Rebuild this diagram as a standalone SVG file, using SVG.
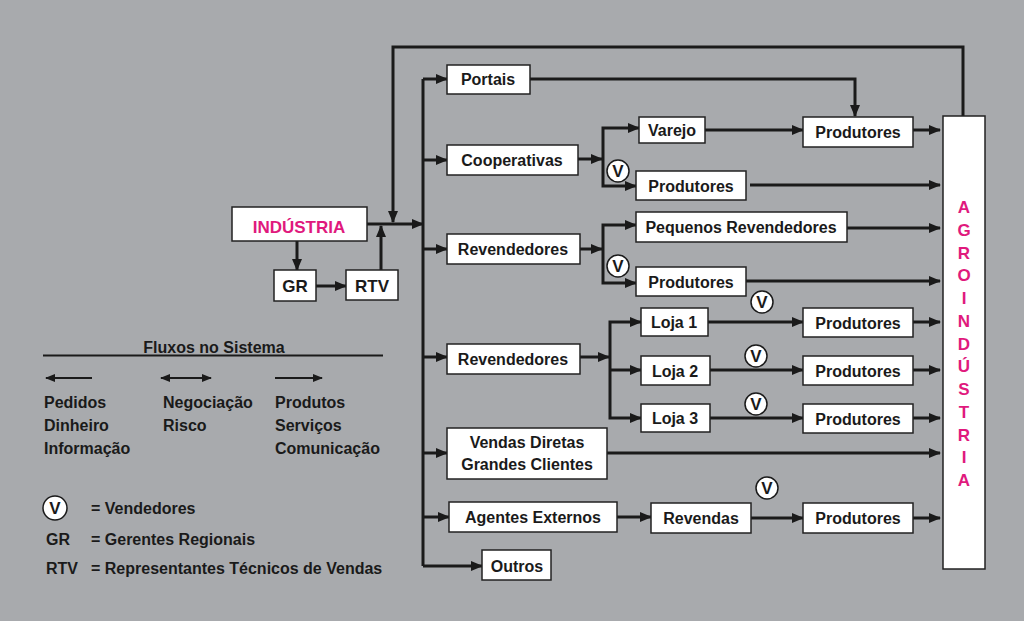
<svg xmlns="http://www.w3.org/2000/svg" width="1024" height="621" viewBox="0 0 1024 621">
<defs>
<style>
.bx{fill:#fff;stroke:#222;stroke-width:1.5}
.t{font-family:"Liberation Sans",Arial,sans-serif;font-weight:bold;font-size:16px;fill:#1a1a1a}
.c{text-anchor:middle}
.m{fill:#e0197d}
.a{font-size:17px}
.ln{fill:none;stroke:#1a1a1a;stroke-width:3}
.ls{fill:none;stroke:#1a1a1a;stroke-width:2}
.vc{fill:#fff;stroke:#1a1a1a;stroke-width:1.5}
</style>
<marker id="ah" viewBox="0 0 12 10" refX="11" refY="5" markerWidth="12" markerHeight="10" markerUnits="userSpaceOnUse" orient="auto">
<path d="M0 0 L12 5 L0 10 Z" fill="#1a1a1a"/>
</marker>
<marker id="as" viewBox="0 0 10 8" refX="9" refY="4" markerWidth="10" markerHeight="8" markerUnits="userSpaceOnUse" orient="auto">
<path d="M0 0 L10 4 L0 8 Z" fill="#1a1a1a"/>
</marker>
<marker id="as0" viewBox="0 0 10 8" refX="1" refY="4" markerWidth="10" markerHeight="8" markerUnits="userSpaceOnUse" orient="auto">
<path d="M10 0 L0 4 L10 8 Z" fill="#1a1a1a"/>
</marker>
</defs>
<rect width="1024" height="621" fill="#a8aaad"/>

<g id="connectors">
<path class="ln" d="M297 241 V270" marker-end="url(#ah)"/>
<path class="ln" d="M316 286 H346" marker-end="url(#ah)"/>
<path class="ln" d="M381 270 V226" marker-end="url(#ah)"/>
<path class="ln" d="M367 224 H423" marker-end="url(#ah)"/>
<path class="ln" d="M963 116 V47 H393 V222" marker-end="url(#ah)"/>
<path class="ln" d="M423 79 V566"/>
<path class="ln" d="M423 79 H447" marker-end="url(#ah)"/>
<path class="ln" d="M423 160 H447" marker-end="url(#ah)"/>
<path class="ln" d="M423 249 H447" marker-end="url(#ah)"/>
<path class="ln" d="M423 357 H447" marker-end="url(#ah)"/>
<path class="ln" d="M423 453 H447" marker-end="url(#ah)"/>
<path class="ln" d="M423 517 H449" marker-end="url(#ah)"/>
<path class="ln" d="M423 566 H482" marker-end="url(#ah)"/>
<path class="ln" d="M530 79 H855 V116" marker-end="url(#ah)"/>
<path class="ln" d="M578 159 H602" marker-end="url(#ah)"/>
<path class="ln" d="M603 159 V128 H639" marker-end="url(#ah)"/>
<path class="ln" d="M603 159 V186 H636" marker-end="url(#ah)"/>
<path class="ln" d="M705 130 H803" marker-end="url(#ah)"/>
<path class="ln" d="M913 130 H940" marker-end="url(#ah)"/>
<path class="ln" d="M750 185 H940" marker-end="url(#ah)"/>
<path class="ln" d="M580 249 H602" marker-end="url(#ah)"/>
<path class="ln" d="M603 249 V225 H636" marker-end="url(#ah)"/>
<path class="ln" d="M603 249 V283 H636" marker-end="url(#ah)"/>
<path class="ln" d="M847 228 H940" marker-end="url(#ah)"/>
<path class="ln" d="M746 281 H940" marker-end="url(#ah)"/>
<path class="ln" d="M580 357 H609" marker-end="url(#ah)"/>
<path class="ln" d="M610 357 V322 H641" marker-end="url(#ah)"/>
<path class="ln" d="M610 357 V418 H641" marker-end="url(#ah)"/>
<path class="ln" d="M610 370 H641" marker-end="url(#ah)"/>
<path class="ln" d="M708 322 H803" marker-end="url(#ah)"/>
<path class="ln" d="M710 370 H803" marker-end="url(#ah)"/>
<path class="ln" d="M710 418 H803" marker-end="url(#ah)"/>
<path class="ln" d="M913 322 H940" marker-end="url(#ah)"/>
<path class="ln" d="M913 370 H940" marker-end="url(#ah)"/>
<path class="ln" d="M913 418 H940" marker-end="url(#ah)"/>
<path class="ln" d="M607 453 H940" marker-end="url(#ah)"/>
<path class="ln" d="M617 517 H651" marker-end="url(#ah)"/>
<path class="ln" d="M751 518 H803" marker-end="url(#ah)"/>
<path class="ln" d="M913 518 H940" marker-end="url(#ah)"/>
</g>

<g id="industria"><rect class="bx" x="232" y="207" width="135" height="34"/><text class="t c m a" x="299" y="233">INDÚSTRIA</text></g>
<g id="gr"><rect class="bx" x="274" y="270" width="42" height="31"/><text class="t c a" x="295" y="292">GR</text></g>
<g id="rtv"><rect class="bx" x="346" y="270" width="52" height="30"/><text class="t c a" x="372" y="292">RTV</text></g>

<g id="portais"><rect class="bx" x="447" y="65" width="83" height="29"/><text class="t c" x="488" y="85">Portais</text></g>
<g id="cooperativas"><rect class="bx" x="447" y="145" width="131" height="30"/><text class="t c" x="512" y="166">Cooperativas</text></g>
<g id="varejo"><rect class="bx" x="639" y="117" width="66" height="26"/><text class="t c" x="672" y="136">Varejo</text></g>
<g id="produtores1"><rect class="bx" x="803" y="117" width="110" height="30"/><text class="t c" x="858" y="138">Produtores</text></g>
<g id="produtores2"><rect class="bx" x="636" y="171" width="110" height="29"/><text class="t c" x="691" y="192">Produtores</text></g>
<g id="revendedores1"><rect class="bx" x="447" y="234" width="133" height="30"/><text class="t c" x="513" y="255">Revendedores</text></g>
<g id="pequenos"><rect class="bx" x="636" y="212" width="211" height="30"/><text class="t c" x="741" y="233">Pequenos Revendedores</text></g>
<g id="produtores3"><rect class="bx" x="636" y="267" width="110" height="29"/><text class="t c" x="691" y="288">Produtores</text></g>
<g id="revendedores2"><rect class="bx" x="447" y="344" width="133" height="30"/><text class="t c" x="513" y="365">Revendedores</text></g>
<g id="loja1"><rect class="bx" x="641" y="308" width="67" height="28"/><text class="t c" x="674" y="328">Loja 1</text></g>
<g id="loja2"><rect class="bx" x="641" y="356" width="69" height="29"/><text class="t c" x="675" y="377">Loja 2</text></g>
<g id="loja3"><rect class="bx" x="641" y="404" width="69" height="28"/><text class="t c" x="675" y="424">Loja 3</text></g>
<g id="produtores4"><rect class="bx" x="803" y="308" width="110" height="29"/><text class="t c" x="858" y="329">Produtores</text></g>
<g id="produtores5"><rect class="bx" x="803" y="356" width="110" height="29"/><text class="t c" x="858" y="377">Produtores</text></g>
<g id="produtores6"><rect class="bx" x="803" y="404" width="110" height="29"/><text class="t c" x="858" y="425">Produtores</text></g>
<g id="vendas"><rect class="bx" x="447" y="428" width="160" height="51"/><text class="t c" x="527" y="448">Vendas Diretas</text><text class="t c" x="527" y="470">Grandes Clientes</text></g>
<g id="agentes"><rect class="bx" x="449" y="502" width="168" height="30"/><text class="t c" x="533" y="523">Agentes Externos</text></g>
<g id="revendas"><rect class="bx" x="651" y="503" width="100" height="30"/><text class="t c" x="701" y="524">Revendas</text></g>
<g id="produtores7"><rect class="bx" x="803" y="503" width="110" height="30"/><text class="t c" x="858" y="524">Produtores</text></g>
<g id="outros"><rect class="bx" x="482" y="550" width="69" height="30"/><text class="t c" x="517" y="572">Outros</text></g>

<g id="agroindustria"><rect class="bx" x="943" y="116" width="42" height="453"/>
<text class="t c m a" x="964" y="213">A</text>
<text class="t c m a" x="964" y="236">G</text>
<text class="t c m a" x="964" y="259">R</text>
<text class="t c m a" x="964" y="281">O</text>
<text class="t c m a" x="964" y="304">I</text>
<text class="t c m a" x="964" y="327">N</text>
<text class="t c m a" x="964" y="350">D</text>
<text class="t c m a" x="964" y="372">Ú</text>
<text class="t c m a" x="964" y="395">S</text>
<text class="t c m a" x="964" y="418">T</text>
<text class="t c m a" x="964" y="441">R</text>
<text class="t c m a" x="964" y="463">I</text>
<text class="t c m a" x="964" y="486">A</text>
</g>

<g id="v-markers">
<g><circle class="vc" cx="618" cy="171" r="11"/><text class="t c a" x="618" y="177">V</text></g>
<g><circle class="vc" cx="618" cy="266" r="11"/><text class="t c a" x="618" y="272">V</text></g>
<g><circle class="vc" cx="762" cy="302" r="11"/><text class="t c a" x="762" y="308">V</text></g>
<g><circle class="vc" cx="756" cy="356" r="11"/><text class="t c a" x="756" y="362">V</text></g>
<g><circle class="vc" cx="756" cy="404" r="11"/><text class="t c a" x="756" y="410">V</text></g>
<g><circle class="vc" cx="767" cy="488" r="11"/><text class="t c a" x="767" y="494">V</text></g>
</g>

<g id="legend">
<text class="t c" x="214" y="353">Fluxos no Sistema</text>
<path class="ls" d="M43 355.5 H383"/>
<path class="ls" d="M92 378 H46" marker-end="url(#as)"/>
<path class="ls" d="M161 378 H211" marker-start="url(#as0)" marker-end="url(#as)"/>
<path class="ls" d="M275 378 H322" marker-end="url(#as)"/>
<text class="t" x="44" y="408">Pedidos</text>
<text class="t" x="44" y="431">Dinheiro</text>
<text class="t" x="44" y="454">Informação</text>
<text class="t" x="163" y="408">Negociação</text>
<text class="t" x="163" y="431">Risco</text>
<text class="t" x="275" y="408">Produtos</text>
<text class="t" x="275" y="431">Serviços</text>
<text class="t" x="275" y="454">Comunicação</text>
<circle class="vc" cx="55" cy="508" r="12"/><text class="t c a" x="55" y="514">V</text>
<text class="t" x="91" y="514">= Vendedores</text>
<text class="t" x="46" y="545">GR</text>
<text class="t" x="91" y="545">= Gerentes Regionais</text>
<text class="t" x="46" y="574">RTV</text>
<text class="t" x="91" y="574">= Representantes Técnicos de Vendas</text>
</g>
</svg>
